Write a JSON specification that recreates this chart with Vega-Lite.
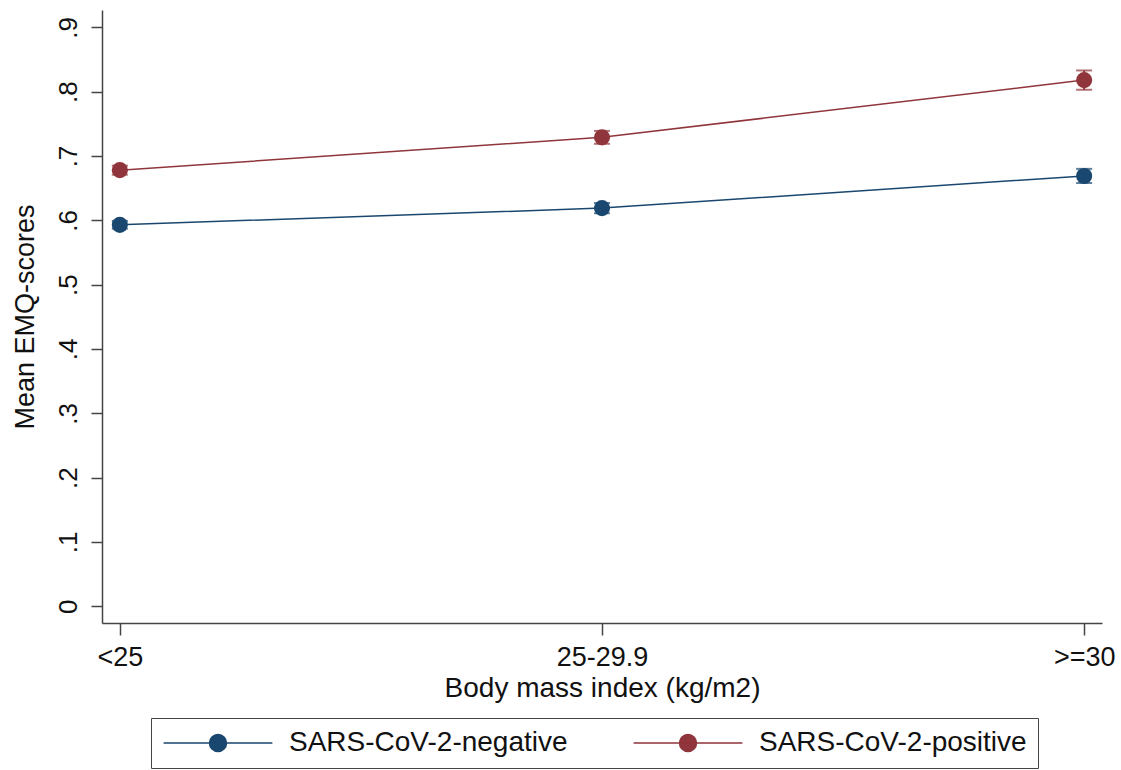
{
  "$schema": "https://vega.github.io/schema/vega-lite/v6.json",
  "width": 1000,
  "height": 613,
  "padding": {"left": 11, "top": 10, "right": 10, "bottom": 0},
  "background": "white",
  "config": {
    "view": {"stroke": null},
    "font": "Liberation Sans",
    "axis": {"grid": false, "domainColor": "#444", "tickColor": "#444", "labelColor": "#111", "titleColor": "#111", "labelFont": "Liberation Sans", "titleFont": "Liberation Sans", "titleFontWeight": "normal", "labelFontSize": 25, "titleFontSize": 25, "domainWidth": 1.5, "tickWidth": 1.5}
  },
  "data": {"values": [
    {"bmi": "<25", "group": "SARS-CoV-2-negative", "mean": 0.593, "lo": 0.587, "hi": 0.599},
    {"bmi": "25-29.9", "group": "SARS-CoV-2-negative", "mean": 0.619, "lo": 0.611, "hi": 0.627},
    {"bmi": ">=30", "group": "SARS-CoV-2-negative", "mean": 0.669, "lo": 0.658, "hi": 0.680},
    {"bmi": "<25", "group": "SARS-CoV-2-positive", "mean": 0.678, "lo": 0.671, "hi": 0.685},
    {"bmi": "25-29.9", "group": "SARS-CoV-2-positive", "mean": 0.729, "lo": 0.719, "hi": 0.739},
    {"bmi": ">=30", "group": "SARS-CoV-2-positive", "mean": 0.818, "lo": 0.803, "hi": 0.833}
  ]},
  "encoding": {
    "x": {"field": "bmi", "type": "ordinal", "sort": ["<25", "25-29.9", ">=30"],
      "scale": {"type": "point", "padding": 0.037},
      "axis": {"title": "Body mass index (kg/m2)", "labelAngle": 0, "tickSize": 12, "labelPadding": 9, "titlePadding": 4, "labelFontSize": 27, "titleFontSize": 28}},
    "color": {"field": "group", "type": "nominal",
      "scale": {"domain": ["SARS-CoV-2-negative", "SARS-CoV-2-positive"], "range": ["#1a476f", "#90353b"]}}
  },
  "layer": [
    {
      "mark": {"type": "rule", "strokeWidth": 2},
      "encoding": {
        "y": {"field": "lo", "type": "quantitative"},
        "y2": {"field": "hi"}
      }
    },
    {
      "mark": {"type": "tick", "size": 16, "thickness": 2},
      "encoding": {"y": {"field": "lo", "type": "quantitative"}}
    },
    {
      "mark": {"type": "tick", "size": 16, "thickness": 2},
      "encoding": {"y": {"field": "hi", "type": "quantitative"}}
    },
    {
      "mark": {"type": "line", "strokeWidth": 1.5},
      "encoding": {
        "y": {"field": "mean", "type": "quantitative",
          "scale": {"domain": [-0.026, 0.927], "nice": false, "zero": false},
          "axis": {"title": "Mean EMQ-scores", "values": [0, 0.1, 0.2, 0.3, 0.4, 0.5, 0.6, 0.7, 0.8, 0.9],
            "labelExpr": "datum.value == 0 ? '0' : replace(format(datum.value, '.1f'), '0.', '.')",
            "labelAngle": -90, "labelAlign": "center", "labelBaseline": "bottom", "labelPadding": 10, "labelFontSize": 26, "titleFontSize": 27, "tickSize": 11, "titlePadding": 16}}
      }
    },
    {
      "mark": {"type": "point", "filled": true, "opacity": 1, "size": 260},
      "encoding": {
        "y": {"field": "mean", "type": "quantitative"},
        "color": {"field": "group", "type": "nominal",
          "legend": {"title": null, "orient": "none", "legendX": 49, "legendY": 708, "direction": "horizontal",
            "symbolType": "M-6.4,0L6.4,0M1,0A1,1,0,1,1,-1,0A1,1,0,1,1,1,0Z",
            "symbolSize": 289, "symbolStrokeWidth": 1.5, "symbolOpacity": 1, "symbolOffset": 42, "labelOffset": 57, "labelFontSize": 28, "labelFont": "Liberation Sans", "labelColor": "#111", "labelLimit": 500,
            "columnPadding": 62, "padding": 11, "strokeColor": "#444",
            "encode": {"symbols": {"update": {"fill": {"scale": "color", "field": "value"}, "stroke": {"scale": "color", "field": "value"}, "strokeWidth": {"value": 1.5}, "opacity": {"value": 1}}}}}}
      }
    }
  ]
}
